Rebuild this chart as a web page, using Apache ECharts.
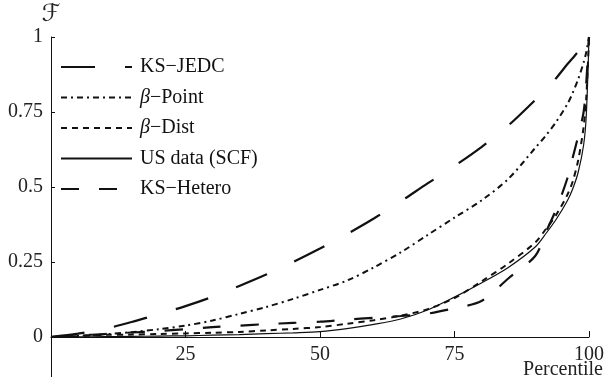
<!DOCTYPE html>
<html><head><meta charset="utf-8">
<script src="https://cdn.jsdelivr.net/npm/echarts@6/dist/echarts.min.js"></script>
<style>html,body{margin:0;padding:0;background:#fff}#c{width:605px;height:377px}</style>
</head><body><div id="c"></div>
<script>
var percentiles = [0,5,10,15,20,25,30,35,40,45,50,55,60,65,70,75,80,85,90,92,94,96,97,98,99,99.5,100];
var ksJedc   = [0,0.011,0.027,0.05,0.076,0.103,0.134,0.17,0.208,0.25,0.295,0.343,0.395,0.452,0.512,0.57,0.633,0.705,0.79,0.825,0.865,0.91,0.93,0.952,0.975,0.988,1];
var betaPoint= [0,0.004,0.009,0.016,0.026,0.038,0.055,0.077,0.1,0.127,0.157,0.188,0.232,0.282,0.34,0.398,0.455,0.527,0.63,0.672,0.72,0.777,0.815,0.86,0.915,0.95,1];
var betaDist = [0,0.003,0.007,0.008,0.01,0.012,0.014,0.017,0.022,0.027,0.033,0.044,0.056,0.071,0.093,0.13,0.185,0.245,0.315,0.36,0.41,0.475,0.52,0.59,0.7,0.8,1];
var usData   = [0,0.0005,0.001,0.002,0.003,0.004,0.006,0.008,0.011,0.014,0.018,0.028,0.042,0.06,0.09,0.133,0.18,0.232,0.3,0.345,0.395,0.455,0.495,0.55,0.64,0.74,1];
var ksHetero = [0,0.005,0.01,0.015,0.02,0.026,0.033,0.038,0.043,0.047,0.051,0.058,0.064,0.07,0.078,0.096,0.12,0.195,0.27,0.35,0.43,0.53,0.6,0.67,0.75,0.85,1];
var seriesNames = ['KS\u2212JEDC','\u03b2\u2212Point','\u03b2\u2212Dist','US data (SCF)','KS\u2212Hetero'];
var xTicks = [25,50,75,100];
var yTicks = [0,0.25,0.5,0.75,1];

function pairs(ys){ return percentiles.map(function(x,i){ return [x, ys[i]]; }); }
var FONT = '"Liberation Serif","Times New Roman",serif';
var styles = [
  {type:[34,30], width:2.2},
  {type:[6,4,2,4], width:2},
  {type:[6,5], width:2},
  {type:'solid', width:1.2},
  {type:[18,20], width:2.2}
];
var vals = [ksJedc, betaPoint, betaDist, usData, ksHetero];
var series = seriesNames.map(function(n,i){
  return {name:n, type:'line', xAxisIndex:0, yAxisIndex:0, data:pairs(vals[i]), symbol:'none', showSymbol:false, smooth:0.3,
    lineStyle:{color:'#111', width:styles[i].width, type:styles[i].type},
    itemStyle:{color:'#111'}};
});
var chart = echarts.init(document.getElementById('c'), null, {renderer:'canvas'});
chart.setOption({
  animation:false,
  backgroundColor:'#fff',
  grid:[
    {left:51, right:16, top:37, bottom:40, containLabel:false, outerBoundsMode:'none'},
    {left:51, right:16, top:337, bottom:0, containLabel:false, outerBoundsMode:'none'}
  ],
  legend:{orient:'vertical', left:60, top:57, padding:0, itemWidth:71, itemHeight:14, itemGap:10.5,
    data:seriesNames,
    itemStyle:{opacity:0, color:'rgba(0,0,0,0)', borderWidth:0},
    textStyle:{fontFamily:FONT, fontSize:20, color:'#111', lineHeight:20, padding:[0,0,0,3],
      rich:{i:{fontFamily:FONT, fontSize:20, fontStyle:'italic', color:'#111'}}},
    formatter:function(n){ return n.replace('\u03b2','{i|\u03b2}'); }
  },
  xAxis:[
    {type:'value', gridIndex:0, min:0, max:100,
      axisLine:{show:true, onZero:false, lineStyle:{color:'#111', width:1}},
      axisTick:{show:true, inside:true, length:6, customValues:xTicks, lineStyle:{color:'#111'}},
      axisLabel:{customValues:xTicks, fontFamily:FONT, fontSize:20, color:'#222', margin:8},
      splitLine:{show:false}
    },
    {type:'value', gridIndex:1, min:0, max:100, show:false}
  ],
  yAxis:[
    {type:'value', gridIndex:0, min:0, max:1,
      name:'\u2131', nameLocation:'end', nameGap:9,
      nameTextStyle:{fontFamily:'"DejaVu Serif","DejaVu Sans",serif', fontSize:24, fontStyle:'italic', color:'#222', align:'center'},
      axisLine:{show:true, onZero:false, lineStyle:{color:'#111', width:1}},
      axisTick:{show:true, inside:true, length:4, customValues:yTicks, lineStyle:{color:'#111'}},
      axisLabel:{customValues:yTicks, fontFamily:FONT, fontSize:20, color:'#222', margin:8,
        formatter:function(v){ return String(v); }},
      splitLine:{show:false}
    },
    {type:'value', gridIndex:1, min:-0.133, max:0,
      axisLine:{show:true, onZero:false, lineStyle:{color:'#111', width:1}},
      axisTick:{show:false}, axisLabel:{show:false}, splitLine:{show:false}
    }
  ],
  graphic:[{type:'text', right:2, top:360,
    style:{text:'Percentile', fontFamily:FONT, fontSize:20, fill:'#222'}}],
  series:series
});
</script></body></html>
